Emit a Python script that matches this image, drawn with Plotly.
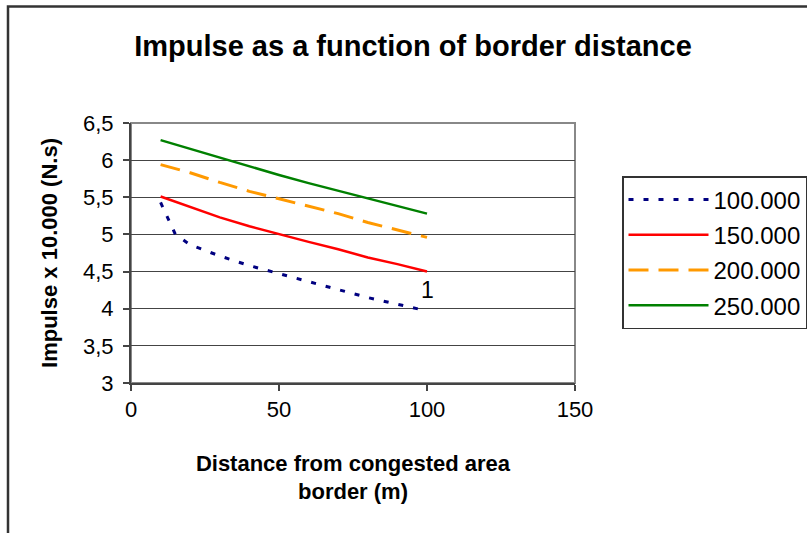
import plotly.graph_objects as go

distance = [10, 15, 20, 30, 40, 50, 60, 70, 80, 90, 100]
imp_100k = [5.43, 5.00, 4.86, 4.71, 4.58, 4.47, 4.37, 4.26, 4.15, 4.06, 3.97]
dist_b = [10, 20, 30, 40, 50, 60, 70, 80, 90, 100]
imp_150k = [5.51, 5.37, 5.23, 5.11, 5.00, 4.90, 4.80, 4.69, 4.60, 4.50]
imp_200k = [5.94, 5.83, 5.70, 5.58, 5.48, 5.38, 5.28, 5.16, 5.06, 4.96]
imp_250k = [6.27, 6.15, 6.03, 5.91, 5.80, 5.69, 5.59, 5.48, 5.38, 5.28]

series_names = ["100.000", "150.000", "200.000", "250.000"]
y_ticks = [3, 3.5, 4, 4.5, 5, 5.5, 6, 6.5]
y_tick_labels = ["3", "3,5", "4", "4,5", "5", "5,5", "6", "6,5"]
x_ticks = [0, 50, 100, 150]

font = "Liberation Sans, Arial, sans-serif"

fig = go.Figure()
fig.add_trace(go.Scatter(x=distance, y=imp_100k, name=series_names[0], mode="lines",
                         legendgroup="a",
                         line=dict(color="#000080", width=3, dash="5px,10px")))
fig.add_trace(go.Scatter(x=dist_b, y=imp_150k, name=series_names[1], mode="lines",
                         legendgroup="b",
                         line=dict(color="#FF0000", width=2.5)))
fig.add_trace(go.Scatter(x=dist_b, y=imp_200k, name=series_names[2], mode="lines",
                         legendgroup="c",
                         line=dict(color="#FF9900", width=3, dash="20px,10px")))
fig.add_trace(go.Scatter(x=dist_b, y=imp_250k, name=series_names[3], mode="lines",
                         legendgroup="d",
                         line=dict(color="#008000", width=2.5)))

fig.add_annotation(x=dist_b[-1], y=4.25, text="1", showarrow=False,
                   font=dict(family=font, size=23, color="#000"))

# plot-area border (top/right) and outer chart frame
fig.add_shape(type="rect", xref="paper", yref="paper", x0=0, x1=1, y0=0, y1=1,
              line=dict(color="#888888", width=2), layer="below")
fig.add_shape(type="rect", xref="paper", yref="paper",
              x0=(8 - 131) / 444, x1=2, y0=-1, y1=(383 - 6.5) / 260,
              line=dict(color="#333333", width=2.5))

fig.update_layout(
    width=807, height=533,
    margin=dict(l=131, r=232, t=123, b=150, autoexpand=False),
    paper_bgcolor="white", plot_bgcolor="white",
    font=dict(family=font, size=22, color="#000"),
    title=dict(text="<b>Impulse as a function of border distance</b>",
               x=(413) / 807, xanchor="center", y=1 - 46 / 533, yanchor="middle",
               font=dict(family=font, size=29, color="#000")),
    xaxis=dict(range=[0, 150], tickvals=x_ticks, showgrid=False, zeroline=False,
               showline=True, linecolor="#444444", linewidth=2,
               ticks="outside", ticklen=6, tickcolor="#444444", tickwidth=1.5,
               tickfont=dict(size=22), automargin=False,
               title=dict(text="<b>Distance from congested area<br>border (m)</b>",
                          font=dict(size=22), standoff=34)),
    yaxis=dict(range=[3, 6.5], tickvals=y_ticks, ticktext=y_tick_labels,
               showgrid=True, gridcolor="#444444", gridwidth=1, zeroline=False,
               showline=True, linecolor="#444444", linewidth=2,
               ticks="outside", ticklen=6, tickcolor="#444444", tickwidth=1.5,
               tickfont=dict(size=22), ticklabelstandoff=5, automargin=False,
               title=dict(text="<b>Impulse x 10.000 (N.s)</b>", font=dict(size=22),
                          standoff=19)),
    legend=dict(xref="container", yref="container", x=622 / 807, xanchor="left",
                y=1 - 176 / 533, yanchor="top",
                bgcolor="white", bordercolor="#333333", borderwidth=1.5,
                font=dict(size=24), itemwidth=80, tracegroupgap=1),
    showlegend=True,
)

fig.write_html("out.html")
